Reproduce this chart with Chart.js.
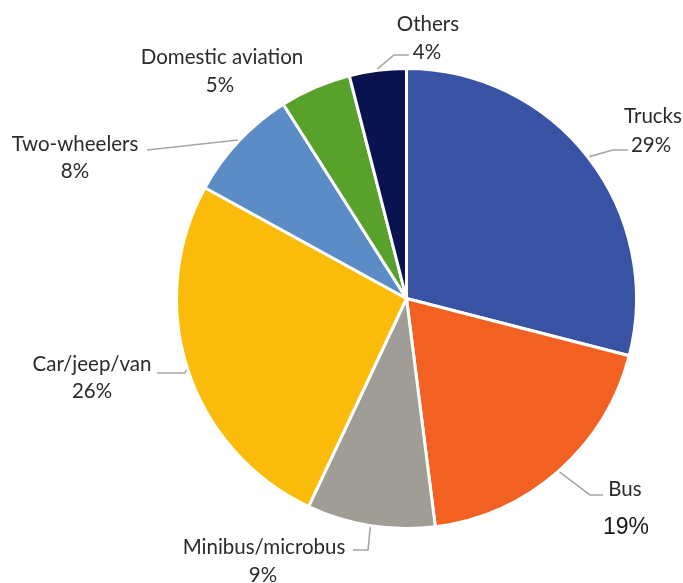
<!DOCTYPE html>
<html>
<head>
<meta charset="utf-8">
<script src="https://cdn.jsdelivr.net/npm/chart.js@4/dist/chart.umd.min.js"></script>
<style>
  html, body { margin: 0; padding: 0; background: #ffffff; }
  #wrap { width: 683px; height: 583px; position: relative; }
</style>
</head>
<body>
<div id="wrap"><canvas id="c" width="683" height="583"></canvas></div>
<script>
// ---- data ----
const categories = ["Trucks", "Bus", "Minibus/microbus", "Car/jeep/van", "Two-wheelers", "Domestic aviation", "Others"];
const shares = [29, 19, 9, 26, 8, 5, 4];
const percentLabels = ["29%", "19%", "9%", "26%", "8%", "5%", "4%"];
const sliceColors = ["#3953A4", "#F26122", "#A09C96", "#FBBB0A", "#5C8CC6", "#58A12B", "#0B1250"];

// ---- label layout (text centres and leader-line bends, in px) ----
const labelLayout = [
  { name: [653, 116], pct: [651, 145], leader: [[613, 150], [628, 150]] },
  { name: [625, 489], pct: [626, 525], leader: [[590, 495], [603, 495]], pctBig: true },
  { name: [264, 547], pct: [263, 575], leader: [[368, 550], [353, 550]] },
  { name: [92, 364],  pct: [92, 391],  leader: [[185, 373], [157, 373]] },
  { name: [75, 144],  pct: [75, 171],  leader: [[147, 150]] },
  { name: [222, 57],  pct: [220, 85],  leader: null },
  { name: [428, 24],  pct: [427, 52],  leader: [[394, 55], [409, 55]] }
];

const FONT = '20.5px Lato, "Open Sans", sans-serif';
const BIGFONT = '23px "Liberation Sans", Arial, sans-serif';

const labelPlugin = {
  id: 'pieLabels',
  afterDatasetsDraw(chart) {
    const ctx = chart.ctx;
    const meta = chart.getDatasetMeta(0);
    ctx.save();
    meta.data.forEach((arc, i) => {
      const lay = labelLayout[i];
      const p = arc.getProps(['x', 'y', 'startAngle', 'endAngle', 'outerRadius'], true);
      const mid = (p.startAngle + p.endAngle) / 2;
      const r = p.outerRadius + 1.5;
      const sx = p.x + Math.cos(mid) * r;
      const sy = p.y + Math.sin(mid) * r;
      if (lay.leader) {
        ctx.beginPath();
        ctx.strokeStyle = '#A6A6A6';
        ctx.lineWidth = 1.6;
        ctx.moveTo(sx, sy);
        lay.leader.forEach(pt => ctx.lineTo(pt[0], pt[1]));
        ctx.stroke();
      }
      ctx.fillStyle = '#2b2b2b';
      ctx.textAlign = 'center';
      ctx.textBaseline = 'alphabetic';
      ctx.font = FONT;
      ctx.fillText(categories[i], lay.name[0], lay.name[1] + 7.3);
      if (lay.pctBig) {
        ctx.font = BIGFONT;
        ctx.fillStyle = '#1a1a1a';
        ctx.fillText(percentLabels[i], lay.pct[0], lay.pct[1] + 8.5);
      } else {
        ctx.fillText(percentLabels[i], lay.pct[0], lay.pct[1] + 7.3);
      }
    });
    ctx.restore();
  }
};

new Chart(document.getElementById('c'), {
  type: 'pie',
  data: {
    labels: categories,
    datasets: [{
      data: shares,
      backgroundColor: sliceColors,
      borderColor: '#ffffff',
      borderWidth: 3
    }]
  },
  options: {
    responsive: false,
    animation: false,
    layout: { padding: { left: 175, right: 45, top: 67, bottom: 53 } },
    plugins: {
      legend: { display: false },
      tooltip: { enabled: false }
    }
  },
  plugins: [labelPlugin]
});
</script>
</body>
</html>
